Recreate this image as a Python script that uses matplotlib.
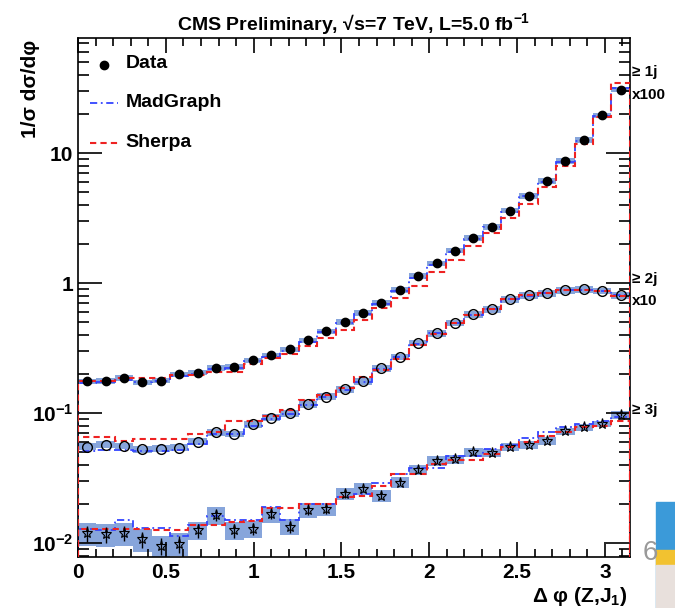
import numpy as np
import matplotlib
matplotlib.use('Agg')
import matplotlib.pyplot as plt
from matplotlib.ticker import FixedLocator, MultipleLocator, NullFormatter, FormatStrFormatter
from matplotlib.patches import Rectangle

plt.rcParams['font.family'] = ['Liberation Sans', 'DejaVu Sans']
plt.rcParams['font.weight'] = 'bold'
plt.rcParams['mathtext.fontset'] = 'custom'
plt.rcParams['mathtext.rm'] = 'Liberation Sans:bold'
plt.rcParams['mathtext.bf'] = 'Liberation Sans:bold'
plt.rcParams['mathtext.default'] = 'rm'

# 30 bins in delta phi, 0..pi
n_bins = 30
edges = np.linspace(0, np.pi, n_bins + 1)
centers = 0.5 * (edges[1:] + edges[:-1])

# >= 1 jet (x100)
data_1j = [0.175, 0.177, 0.187, 0.172, 0.178, 0.198, 0.205, 0.223, 0.226, 0.254,
           0.278, 0.309, 0.363, 0.426, 0.50, 0.59, 0.705, 0.883, 1.13, 1.42,
           1.78, 2.22, 2.72, 3.62, 4.70, 6.10, 8.7, 12.6, 19.5, 30.9]
mg_1j = [0.170, 0.172, 0.180, 0.172, 0.178, 0.192, 0.200, 0.218, 0.222, 0.250,
         0.272, 0.302, 0.355, 0.418, 0.49, 0.58, 0.69, 0.87, 1.10, 1.39,
         1.75, 2.18, 2.70, 3.55, 4.65, 6.0, 8.6, 12.4, 19.3, 31.5]
sh_1j = [0.175, 0.177, 0.187, 0.187, 0.187, 0.195, 0.195, 0.207, 0.207, 0.240,
         0.267, 0.287, 0.326, 0.381, 0.439, 0.524, 0.638, 0.762, 0.948, 1.21,
         1.50, 1.93, 2.42, 3.16, 4.07, 5.54, 8.0, 11.8, 19.0, 34.8]

# >= 2 jets (x10)
data_2j = [0.0551, 0.0571, 0.0558, 0.0526, 0.0532, 0.0542, 0.0603, 0.0711, 0.069, 0.082,
           0.0923, 0.0997, 0.117, 0.134, 0.153, 0.176, 0.222, 0.270, 0.346, 0.413,
           0.494, 0.576, 0.630, 0.748, 0.803, 0.832, 0.883, 0.894, 0.872, 0.803]
mg_2j = [0.051, 0.052, 0.052, 0.051, 0.051, 0.052, 0.058, 0.069, 0.069, 0.080,
         0.090, 0.098, 0.115, 0.132, 0.151, 0.174, 0.218, 0.268, 0.340, 0.410,
         0.49, 0.57, 0.63, 0.75, 0.80, 0.84, 0.88, 0.89, 0.87, 0.81]
sh_2j = [0.065, 0.065, 0.0614, 0.063, 0.063, 0.063, 0.0688, 0.071, 0.0874, 0.0866,
         0.0957, 0.106, 0.125, 0.137, 0.157, 0.189, 0.215, 0.262, 0.335, 0.405,
         0.49, 0.57, 0.635, 0.755, 0.81, 0.84, 0.885, 0.89, 0.87, 0.80]

# >= 3 jets
data_3j = [0.0119, 0.0117, 0.0119, 0.0107, 0.0095, 0.0099, 0.0125, 0.0164, 0.0125, 0.0129,
           0.0167, 0.0133, 0.0179, 0.0182, 0.0240, 0.0261, 0.0231, 0.0292, 0.0364, 0.0430,
           0.0443, 0.0498, 0.0490, 0.0551, 0.0571, 0.0614, 0.0724, 0.0777, 0.0824, 0.0973]
mg_3j = [0.0128, 0.0126, 0.0151, 0.0131, 0.0131, 0.0113, 0.0138, 0.0160, 0.0150, 0.0150,
         0.0188, 0.0150, 0.0201, 0.0201, 0.0224, 0.0240, 0.0290, 0.0339, 0.0379, 0.0379,
         0.0470, 0.0470, 0.0530, 0.0570, 0.0640, 0.0710, 0.0777, 0.0820, 0.0874, 0.0940]
sh_3j = [0.0129, 0.0129, 0.0129, 0.0129, 0.0125, 0.0125, 0.0138, 0.0138, 0.0145, 0.0147,
         0.0185, 0.0185, 0.0198, 0.0198, 0.0224, 0.0230, 0.0276, 0.0339, 0.0339, 0.0408,
         0.0438, 0.0438, 0.0487, 0.0545, 0.0594, 0.067, 0.0713, 0.0777, 0.080, 0.0874]

# relative uncertainties
sys_1j = 0.05
sys_2j = 0.06
sys_3j = [0.20, 0.20, 0.20, 0.20, 0.20, 0.20, 0.16, 0.16, 0.16, 0.15,
          0.14, 0.14, 0.13, 0.12, 0.11, 0.10, 0.10, 0.10, 0.09, 0.09,
          0.08, 0.08, 0.07, 0.07, 0.07, 0.07, 0.06, 0.06, 0.06, 0.07]
stat_3j = [0.14, 0.14, 0.13, 0.14, 0.15, 0.15, 0.12, 0.10, 0.12, 0.11,
           0.09, 0.10, 0.08, 0.08, 0.07, 0.06, 0.06, 0.05, 0.05, 0.04,
           0.04, 0.04, 0.04, 0.03, 0.03, 0.03, 0.03, 0.03, 0.03, 0.03]

box_col = '#7a9bd8'
mg_col, mg_ls = '#3344ff', (0, (4, 2, 1, 2))
sh_col, sh_ls = '#ee2222', (0, (3, 2))

fig = plt.figure(figsize=(6.75, 6.08), dpi=100)
ax = fig.add_axes([0.1156, 0.0839, 0.8174, 0.8536])

for d, mg, sh, rel in [(data_1j, mg_1j, sh_1j, sys_1j),
                       (data_2j, mg_2j, sh_2j, sys_2j),
                       (data_3j, mg_3j, sh_3j, sys_3j)]:
    d = np.array(d)
    rel = np.array(rel) * np.ones(n_bins)
    ax.stairs(d * (1 + rel), edges, baseline=d * (1 - rel), fill=True,
              color=box_col, lw=0, alpha=0.9, zorder=1)
    ax.stairs(mg, edges, color=mg_col, ls=mg_ls, lw=1.3, zorder=2)
    ax.stairs(sh, edges, color=sh_col, ls=sh_ls, lw=1.5, zorder=3)

ax.errorbar(centers, data_3j, yerr=np.array(data_3j) * np.array(stat_3j), fmt='none',
            ecolor='black', elinewidth=1, zorder=4)
ax.plot(centers, data_1j, 'o', color='black', ms=6, zorder=5)
ax.plot(centers, data_2j, 'o', mfc='none', mec='black', mew=1, ms=7, zorder=5)
ax.plot(centers, data_3j, '*', mfc='none', mec='black', mew=0.8, ms=8, zorder=5)

ax.set_yscale('log')
ax.set_xlim(0, np.pi)
ax.set_ylim(0.0078, 77)

ax.xaxis.set_major_locator(MultipleLocator(0.5))
ax.xaxis.set_minor_locator(MultipleLocator(0.1))
ax.xaxis.set_major_formatter(FormatStrFormatter('%g'))
ax.yaxis.set_major_locator(FixedLocator([0.01, 0.1, 1, 10]))
ax.set_yticklabels(['$10^{-2}$', '$10^{-1}$', '1', '10'])
ax.yaxis.set_minor_locator(FixedLocator([m * 10.0 ** e for e in range(-3, 2) for m in range(2, 10)]))
ax.yaxis.set_minor_formatter(NullFormatter())
ax.tick_params(which='both', direction='in', top=True, right=True, width=1.2, labelsize=15)
ax.tick_params(which='major', axis='x', length=11)
ax.tick_params(which='minor', axis='x', length=6)
ax.tick_params(which='major', axis='y', length=17)
ax.tick_params(which='minor', axis='y', length=8)
ax.tick_params(axis='x', pad=4)
for s in ax.spines.values():
    s.set_linewidth(1.2)
for lab in ax.get_xticklabels() + ax.get_yticklabels():
    lab.set_fontweight('bold')

ax.set_title('CMS Preliminary, \u221as=7 TeV, L=5.0 fb$^{-1}$', fontsize=14, fontweight='bold', pad=6)
fig.text(0.045, 0.935, '1/\u03c3 d\u03c3/d\u03c6', rotation=90, ha='center', va='top',
         fontsize=15, fontweight='bold')
fig.text(0.93, 0.0, '\u0394 \u03c6 (Z,J$_{1}$)', ha='right', va='bottom', fontsize=15,
         fontweight='bold')

# legend by hand, ROOT style
ax.plot([0.047], [0.948], 'o', color='black', ms=6, transform=ax.transAxes, clip_on=False)
ax.plot([0.022, 0.072], [0.875, 0.875], color=mg_col, ls=mg_ls, lw=1.3,
        transform=ax.transAxes)
ax.plot([0.022, 0.072], [0.798, 0.798], color=sh_col, ls=sh_ls, lw=1.5,
        transform=ax.transAxes)
fig.text(0.186, 0.895, 'Data', fontsize=14, fontweight='bold', va='center')
fig.text(0.186, 0.832, 'MadGraph', fontsize=14, fontweight='bold', va='center')
fig.text(0.186, 0.766, 'Sherpa', fontsize=14, fontweight='bold', va='center')

# multiplicity labels on the right
for txt, y in [('\u2265 1j', 0.882), ('x100', 0.843), ('\u2265 2j', 0.541),
               ('x10', 0.505), ('\u2265 3j', 0.325)]:
    fig.text(0.936, y, txt, fontsize=11, fontweight='bold', va='center')

# slide remnants at the bottom right
fig.text(0.963, 0.09, '6', fontsize=20, color='#999999', va='center', ha='center',
         fontweight='normal')
fig.patches.append(Rectangle((0.972, 0.0), 0.03, 0.175, transform=fig.transFigure,
                             color='#3b9ad9', zorder=0))
fig.patches.append(Rectangle((0.972, 0.07), 0.03, 0.025, transform=fig.transFigure,
                             color='#f2c230', zorder=0))
fig.patches.append(Rectangle((0.972, 0.0), 0.03, 0.07, transform=fig.transFigure,
                             color='#e8e0dc', zorder=0))

fig.savefig('out.png', dpi=100)
